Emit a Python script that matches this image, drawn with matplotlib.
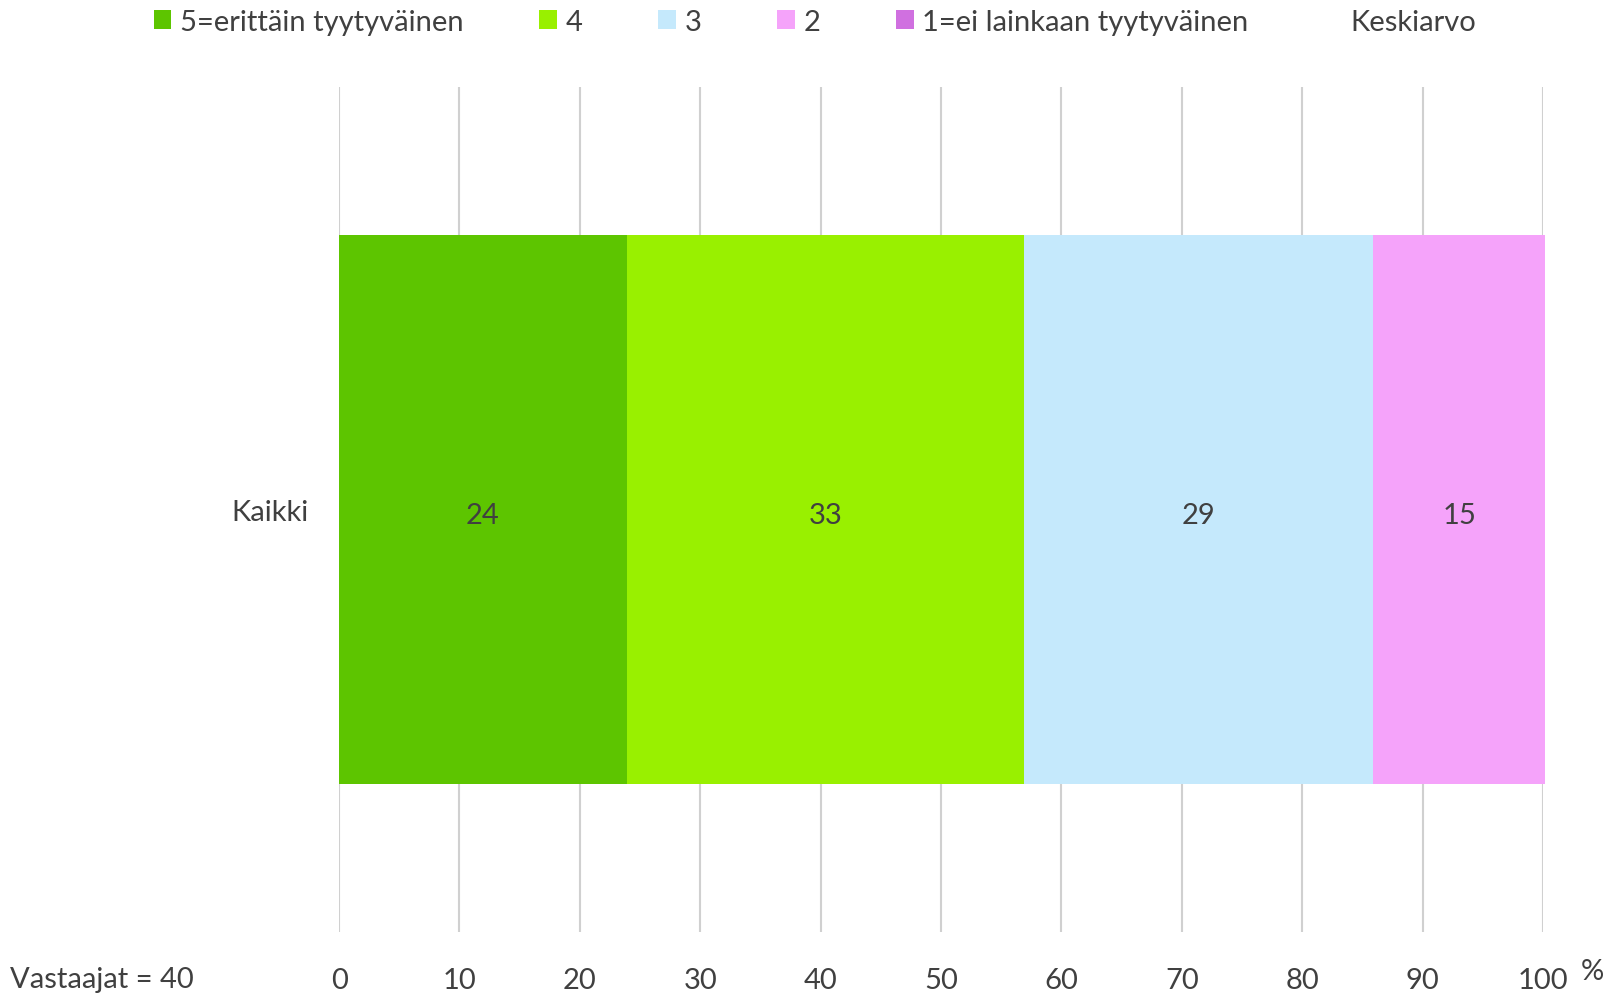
import matplotlib.pyplot as plt
from matplotlib.patches import Patch
from matplotlib.lines import Line2D

plt.rcParams['font.family'] = ['Lato', 'DejaVu Sans']

# data
category = 'Kaikki'
series_names = ['5=erittäin tyytyväinen', '4', '3', '2', '1=ei lainkaan tyytyväinen']
values = [23.9, 33.0, 29.0, 14.3, 0.0]
value_labels = ['24', '33', '29', '15', '']
colors = ['#5DC500', '#99F000', '#C5E9FC', '#F5A3FA', '#D070E0']
xticks = [0, 10, 20, 30, 40, 50, 60, 70, 80, 90, 100]
respondents = 'Vastaajat = 40'

text_color = '#404040'
fs = 21

fig = plt.figure(figsize=(16.17, 9.95), dpi=100)
ax = fig.add_axes([0.2097, 0.0623, 0.7445, 0.8493])

# stacked horizontal bar
left = 0
for v, lab, c in zip(values, value_labels, colors):
    if v > 0:
        ax.barh(0, v, left=left, height=0.65, color=c, zorder=2, clip_on=False)
        ax.text(left + v / 2, -0.006, lab, ha='center', va='center',
                fontsize=fs, color=text_color, zorder=3)
    left += v

ax.set_xlim(0, 100)
ax.set_ylim(-0.5, 0.5)
ax.set_xticks(xticks)
ax.set_xticklabels([str(t) for t in xticks])
ax.set_yticks([0])
ax.set_yticklabels([category])
ax.tick_params(axis='both', length=0, labelsize=fs, labelcolor=text_color)
ax.tick_params(axis='x', pad=25)
ax.tick_params(axis='y', pad=22)
ax.xaxis.grid(True, color='#D0D0D0', linewidth=1.5, zorder=0)
ax.set_axisbelow(True)
for s in ax.spines.values():
    s.set_visible(False)

# legend
handles = [Patch(facecolor=c, edgecolor='none') for c in colors]
handles.append(Line2D([], [], linestyle='none'))
labels = series_names + ['Keskiarvo']
fig.legend(handles, labels, loc='center', bbox_to_anchor=(0.504, 0.977), ncol=6,
           frameon=False, fontsize=fs, labelcolor=text_color,
           handlelength=0.6, handleheight=0.6, handletextpad=0.3,
           columnspacing=2.6, borderpad=0)

fig.text(10 / 1617, 1 - 980 / 995, respondents, ha='left', va='center',
         fontsize=fs, color=text_color)
fig.text(1592 / 1617, 1 - 972 / 995, '%', ha='center', va='center',
         fontsize=fs, color=text_color)

fig.savefig('out.png', dpi=100)
